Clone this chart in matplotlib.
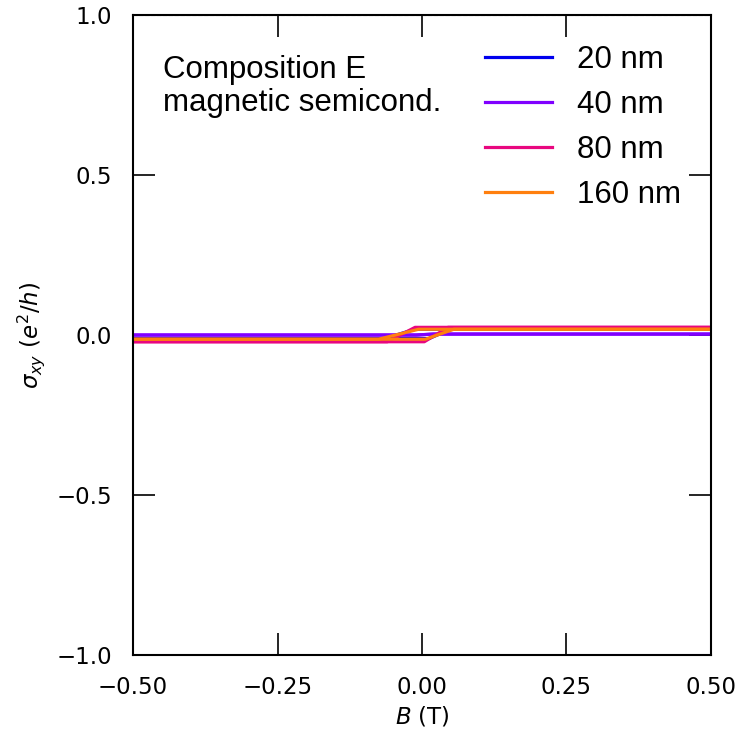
import matplotlib
matplotlib.use("Agg")
import matplotlib.pyplot as plt

# Hall conductivity loops, sweep up and sweep down for each film thickness
labels = ["20 nm", "40 nm", "80 nm", "160 nm"]
colors = ["#0000ee", "#8000ff", "#e8077f", "#ff7f0e"]

B_up = [
    [-0.5, 0.012, 0.05, 0.5],
    [-0.5, -0.01, 0.02, 0.5],
    [-0.5, 0.004, 0.045, 0.5],
    [-0.5, 0.006, 0.055, 0.5],
]
s_up = [
    [-0.011, -0.011, 0.018, 0.018],
    [0.0, 0.0, 0.003, 0.003],
    [-0.021, -0.021, 0.024, 0.024],
    [-0.013, -0.013, 0.018, 0.018],
]
B_down = [
    [0.5, -0.012, -0.065, -0.5],
    [0.5, 0.02, -0.01, -0.5],
    [0.5, -0.012, -0.06, -0.5],
    [0.5, -0.006, -0.075, -0.5],
]
s_down = [
    [0.018, 0.018, -0.011, -0.011],
    [0.003, 0.003, 0.0, 0.0],
    [0.024, 0.024, -0.021, -0.021],
    [0.018, 0.018, -0.013, -0.013],
]

fig = plt.figure(figsize=(7.41, 7.36), dpi=100)
ax = fig.add_axes([0.1795, 0.110, 0.78, 0.8696])

for i in range(len(labels)):
    ax.plot(B_up[i], s_up[i], color=colors[i], lw=2.3, label=labels[i])
    ax.plot(B_down[i], s_down[i], color=colors[i], lw=2.3)

ax.axhline(1.0, color="0.6", ls="--", lw=0.8)
ax.axhline(-1.0, color="0.6", ls="--", lw=0.8)

ax.set_xlim(-0.5, 0.5)
ax.set_ylim(-1.0, 1.0)
ax.set_xticks([-0.5, -0.25, 0.0, 0.25, 0.5])
ax.set_yticks([-1.0, -0.5, 0.0, 0.5, 1.0])
ax.tick_params(direction="in", length=16, width=1.2, top=True, right=True,
               labelsize=16.5, pad=15)
for sp in ax.spines.values():
    sp.set_linewidth(1.5)

ax.set_xlabel(r"$B$ (T)", fontsize=16.5, labelpad=4)
ax.set_ylabel(r"$\sigma_{xy}$ ($e^2/h$)", fontsize=16.5, labelpad=7)

ax.text(0.052, 0.937, "Composition E\nmagnetic semicond.", transform=ax.transAxes,
        ha="left", va="top", fontsize=22.5, family="Liberation Sans", linespacing=1.12)

ax.legend(loc="upper right", frameon=False, prop={"family": "Liberation Sans", "size": 22.5},
          handlelength=2.15, handletextpad=0.8, labelspacing=0.48,
          bbox_to_anchor=(0.997, 0.997))

fig.savefig("out.png", dpi=100)
